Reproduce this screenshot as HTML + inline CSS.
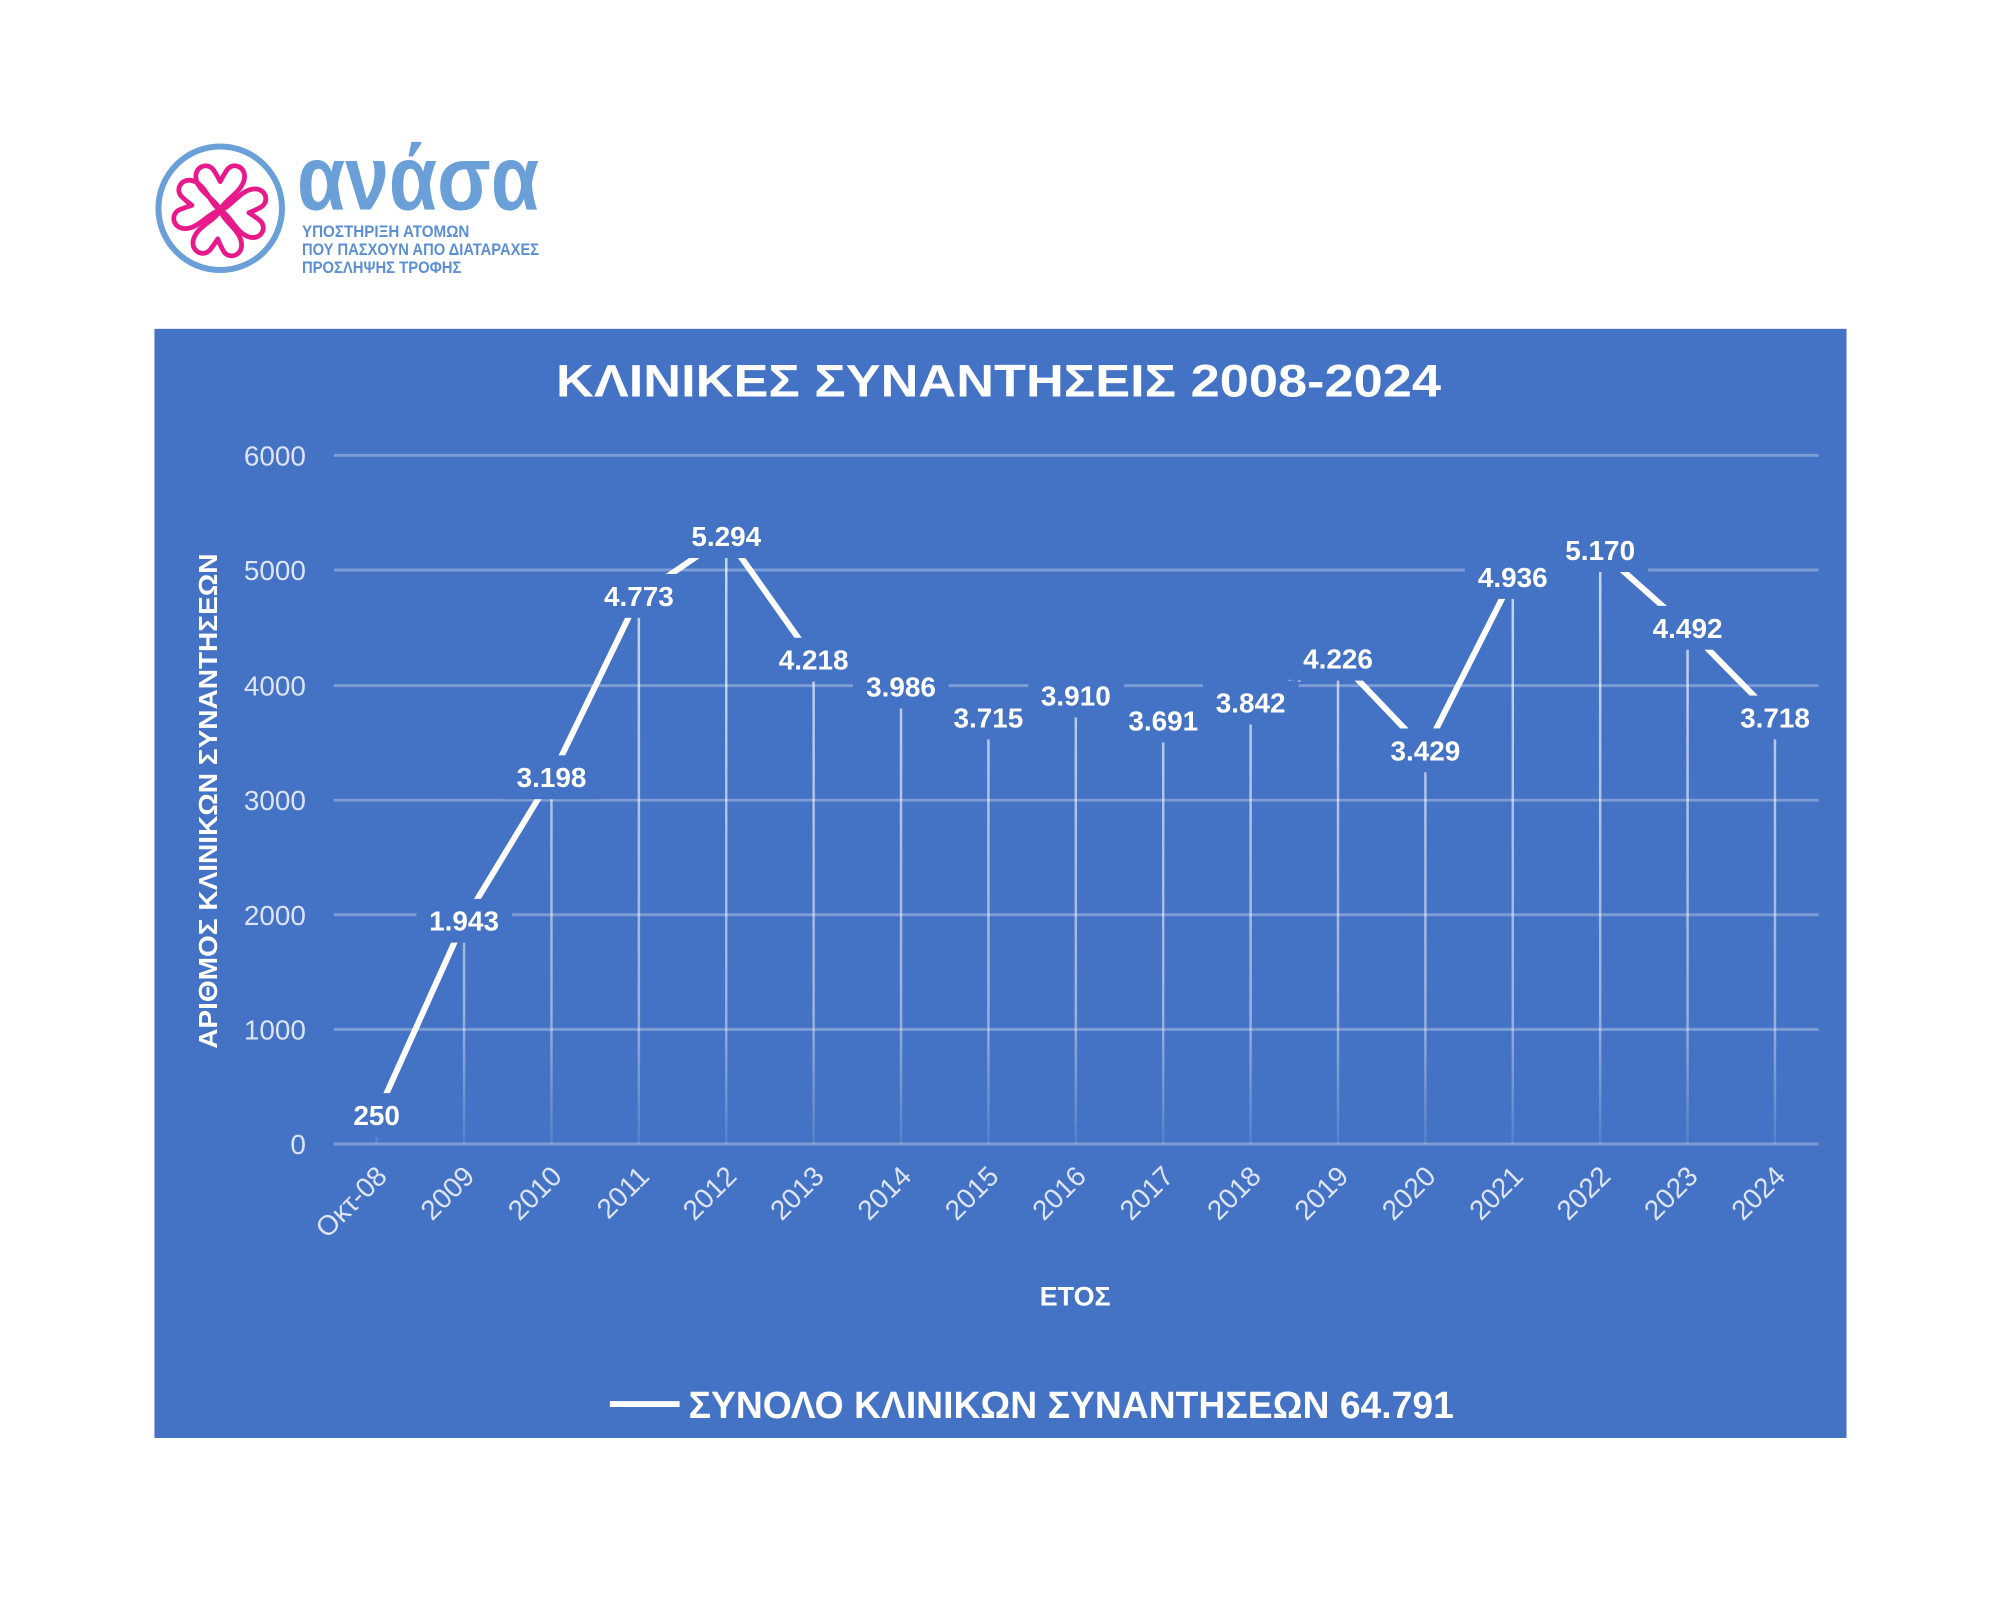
<!DOCTYPE html>
<html><head><meta charset="utf-8"><style>
html,body{margin:0;padding:0;background:#fff;}
svg{display:block;}
text{font-family:"Liberation Sans",sans-serif;}
</style></head><body>
<svg width="2000" height="1600" viewBox="0 0 2000 1600" xmlns="http://www.w3.org/2000/svg">
<defs>
<linearGradient id="dg" gradientUnits="userSpaceOnUse" x1="0" y1="500" x2="0" y2="1148">
<stop offset="0" stop-color="#fff" stop-opacity="0.75"/>
<stop offset="0.8" stop-color="#fff" stop-opacity="0.45"/>
<stop offset="1" stop-color="#fff" stop-opacity="0.1"/>
</linearGradient>
<path id="heart" d="M0,0 C-6,-14 -26,-22 -30,-38 C-34,-54 -16,-62 -8,-50 C-4,-44 -2,-40 0,-36 C2,-40 4,-44 8,-50 C16,-62 34,-54 30,-38 C26,-22 6,-14 0,0 Z" fill="none" stroke="#e8198b" stroke-width="6" stroke-linejoin="round"/>
</defs>
<rect width="2000" height="1600" fill="#fff"/>
<g transform="scale(0.9965)">
<!-- logo -->
<circle cx="221" cy="209" r="62" fill="none" stroke="#6a9fd8" stroke-width="6"/>
<g transform="translate(221,211)">
<use href="#heart" transform="rotate(0) scale(0.8)"/>
<use href="#heart" transform="rotate(95) scale(0.8)"/>
<use href="#heart" transform="rotate(185) scale(0.8)"/>
<use href="#heart" transform="rotate(-80) scale(0.8)"/>
</g>
<text x="298" y="210" font-size="92" font-weight="bold" fill="#6a9fd8" textLength="243" lengthAdjust="spacingAndGlyphs">ανάσα</text>
<text x="303" y="238" font-size="17" font-weight="bold" fill="#5b8fd2" textLength="168" lengthAdjust="spacingAndGlyphs">ΥΠΟΣΤΗΡΙΞΗ ΑΤΟΜΩΝ</text>
<text x="303" y="256" font-size="17" font-weight="bold" fill="#5b8fd2" textLength="238" lengthAdjust="spacingAndGlyphs">ΠΟΥ ΠΑΣΧΟΥΝ ΑΠΟ ΔΙΑΤΑΡΑΧΕΣ</text>
<text x="303" y="274" font-size="17" font-weight="bold" fill="#5b8fd2" textLength="160" lengthAdjust="spacingAndGlyphs">ΠΡΟΣΛΗΨΗΣ ΤΡΟΦΗΣ</text>
<!-- panel -->
<rect x="155" y="330" width="1698" height="1113" fill="#4472c4"/>
<text x="1002" y="398" font-size="46" font-weight="bold" fill="#fff" text-anchor="middle" textLength="888" lengthAdjust="spacingAndGlyphs">ΚΛΙΝΙΚΕΣ ΣΥΝΑΝΤΗΣΕΙΣ 2008-2024</text>
<!-- grid -->
<g stroke="#fff" stroke-opacity="0.3" stroke-width="3">
<line x1="335" y1="457" x2="1825" y2="457"/>
<line x1="335" y1="572" x2="1825" y2="572"/>
<line x1="335" y1="688" x2="1825" y2="688"/>
<line x1="335" y1="803" x2="1825" y2="803"/>
<line x1="335" y1="918" x2="1825" y2="918"/>
<line x1="335" y1="1033" x2="1825" y2="1033"/>
<line x1="335" y1="1148" x2="1825" y2="1148"/>
</g>
<g font-size="28" fill="#dde5f5" text-anchor="end">
<text x="307" y="467">6000</text>
<text x="307" y="582">5000</text>
<text x="307" y="698">4000</text>
<text x="307" y="813">3000</text>
<text x="307" y="928">2000</text>
<text x="307" y="1043">1000</text>
<text x="307" y="1158">0</text>
</g>
<text transform="translate(218,804) rotate(-90)" font-size="26" font-weight="bold" fill="#fff" text-anchor="middle" textLength="497" lengthAdjust="spacingAndGlyphs">ΑΡΙΘΜΟΣ ΚΛΙΝΙΚΩΝ ΣΥΝΑΝΤΗΣΕΩΝ</text>
<!-- drop lines -->
<g stroke="url(#dg)" stroke-width="2.5">
<line x1="378" y1="1119" x2="378" y2="1148"/>
<line x1="465.7" y1="924" x2="465.7" y2="1148"/>
<line x1="553.4" y1="780" x2="553.4" y2="1148"/>
<line x1="641.1" y1="598" x2="641.1" y2="1148"/>
<line x1="728.8" y1="538" x2="728.8" y2="1148"/>
<line x1="816.5" y1="662" x2="816.5" y2="1148"/>
<line x1="904.2" y1="689" x2="904.2" y2="1148"/>
<line x1="991.9" y1="720" x2="991.9" y2="1148"/>
<line x1="1079.6" y1="698" x2="1079.6" y2="1148"/>
<line x1="1167.3" y1="723" x2="1167.3" y2="1148"/>
<line x1="1255" y1="705" x2="1255" y2="1148"/>
<line x1="1342.7" y1="661" x2="1342.7" y2="1148"/>
<line x1="1430.4" y1="753" x2="1430.4" y2="1148"/>
<line x1="1518.1" y1="579" x2="1518.1" y2="1148"/>
<line x1="1605.8" y1="552" x2="1605.8" y2="1148"/>
<line x1="1693.5" y1="630" x2="1693.5" y2="1148"/>
<line x1="1781.2" y1="720" x2="1781.2" y2="1148"/>
</g>
<polyline fill="none" stroke="#fff" stroke-width="6" stroke-linejoin="round" points="378,1119.2 465.7,924.2 553.4,779.6 641.1,598.2 728.8,538.1 816.5,662.1 904.2,688.8 991.9,720 1079.6,697.6 1167.3,722.8 1255,705.4 1342.7,661.2 1430.4,753 1518.1,579.4 1605.8,552.4 1693.5,630.5 1781.2,719.7"/>
<!-- label boxes -->
<g fill="#4472c4">
<rect x="336" y="1097" width="84" height="44"/>
<rect x="418" y="902" width="96" height="44"/>
<rect x="505" y="758" width="96" height="44"/>
<rect x="593" y="576" width="96" height="44"/>
<rect x="681" y="516" width="96" height="44"/>
<rect x="768" y="640" width="96" height="44"/>
<rect x="856" y="667" width="96" height="44"/>
<rect x="944" y="698" width="96" height="44"/>
<rect x="1032" y="676" width="96" height="44"/>
<rect x="1119" y="701" width="96" height="44"/>
<rect x="1207" y="683" width="96" height="44"/>
<rect x="1295" y="639" width="96" height="44"/>
<rect x="1382" y="731" width="96" height="44"/>
<rect x="1470" y="557" width="96" height="44"/>
<rect x="1558" y="530" width="96" height="44"/>
<rect x="1645" y="608" width="96" height="44"/>
<rect x="1733" y="698" width="96" height="44"/>
</g>
<g font-size="28" font-weight="bold" fill="#fff" text-anchor="middle">
<text x="378" y="1129">250</text>
<text x="465.7" y="934">1.943</text>
<text x="553.4" y="790">3.198</text>
<text x="641.1" y="608">4.773</text>
<text x="728.8" y="548">5.294</text>
<text x="816.5" y="672">4.218</text>
<text x="904.2" y="699">3.986</text>
<text x="991.9" y="730">3.715</text>
<text x="1079.6" y="708">3.910</text>
<text x="1167.3" y="733">3.691</text>
<text x="1255" y="715">3.842</text>
<text x="1342.7" y="671">4.226</text>
<text x="1430.4" y="763">3.429</text>
<text x="1518.1" y="589">4.936</text>
<text x="1605.8" y="562">5.170</text>
<text x="1693.5" y="640">4.492</text>
<text x="1781.2" y="730">3.718</text>
</g>
<!-- x labels -->
<g font-size="28" fill="#dde5f5" text-anchor="end">
<text transform="translate(390,1182) rotate(-45)">Οκτ-08</text>
<text transform="translate(477.7,1182) rotate(-45)">2009</text>
<text transform="translate(565.4,1182) rotate(-45)">2010</text>
<text transform="translate(653.1,1182) rotate(-45)">2011</text>
<text transform="translate(740.8,1182) rotate(-45)">2012</text>
<text transform="translate(828.5,1182) rotate(-45)">2013</text>
<text transform="translate(916.2,1182) rotate(-45)">2014</text>
<text transform="translate(1003.9,1182) rotate(-45)">2015</text>
<text transform="translate(1091.6,1182) rotate(-45)">2016</text>
<text transform="translate(1179.3,1182) rotate(-45)">2017</text>
<text transform="translate(1267,1182) rotate(-45)">2018</text>
<text transform="translate(1354.7,1182) rotate(-45)">2019</text>
<text transform="translate(1442.4,1182) rotate(-45)">2020</text>
<text transform="translate(1530.1,1182) rotate(-45)">2021</text>
<text transform="translate(1617.8,1182) rotate(-45)">2022</text>
<text transform="translate(1705.5,1182) rotate(-45)">2023</text>
<text transform="translate(1793.2,1182) rotate(-45)">2024</text>
</g>
<text x="1079" y="1310" font-size="27" font-weight="bold" fill="#fff" text-anchor="middle">ΕΤΟΣ</text>
<!-- legend -->
<line x1="612" y1="1409" x2="682" y2="1409" stroke="#fff" stroke-width="6"/>
<text x="691" y="1423" font-size="38" font-weight="bold" fill="#fff" textLength="768" lengthAdjust="spacingAndGlyphs">ΣΥΝΟΛΟ ΚΛΙΝΙΚΩΝ ΣΥΝΑΝΤΗΣΕΩΝ 64.791</text>
</g>
</svg>
</body></html>
